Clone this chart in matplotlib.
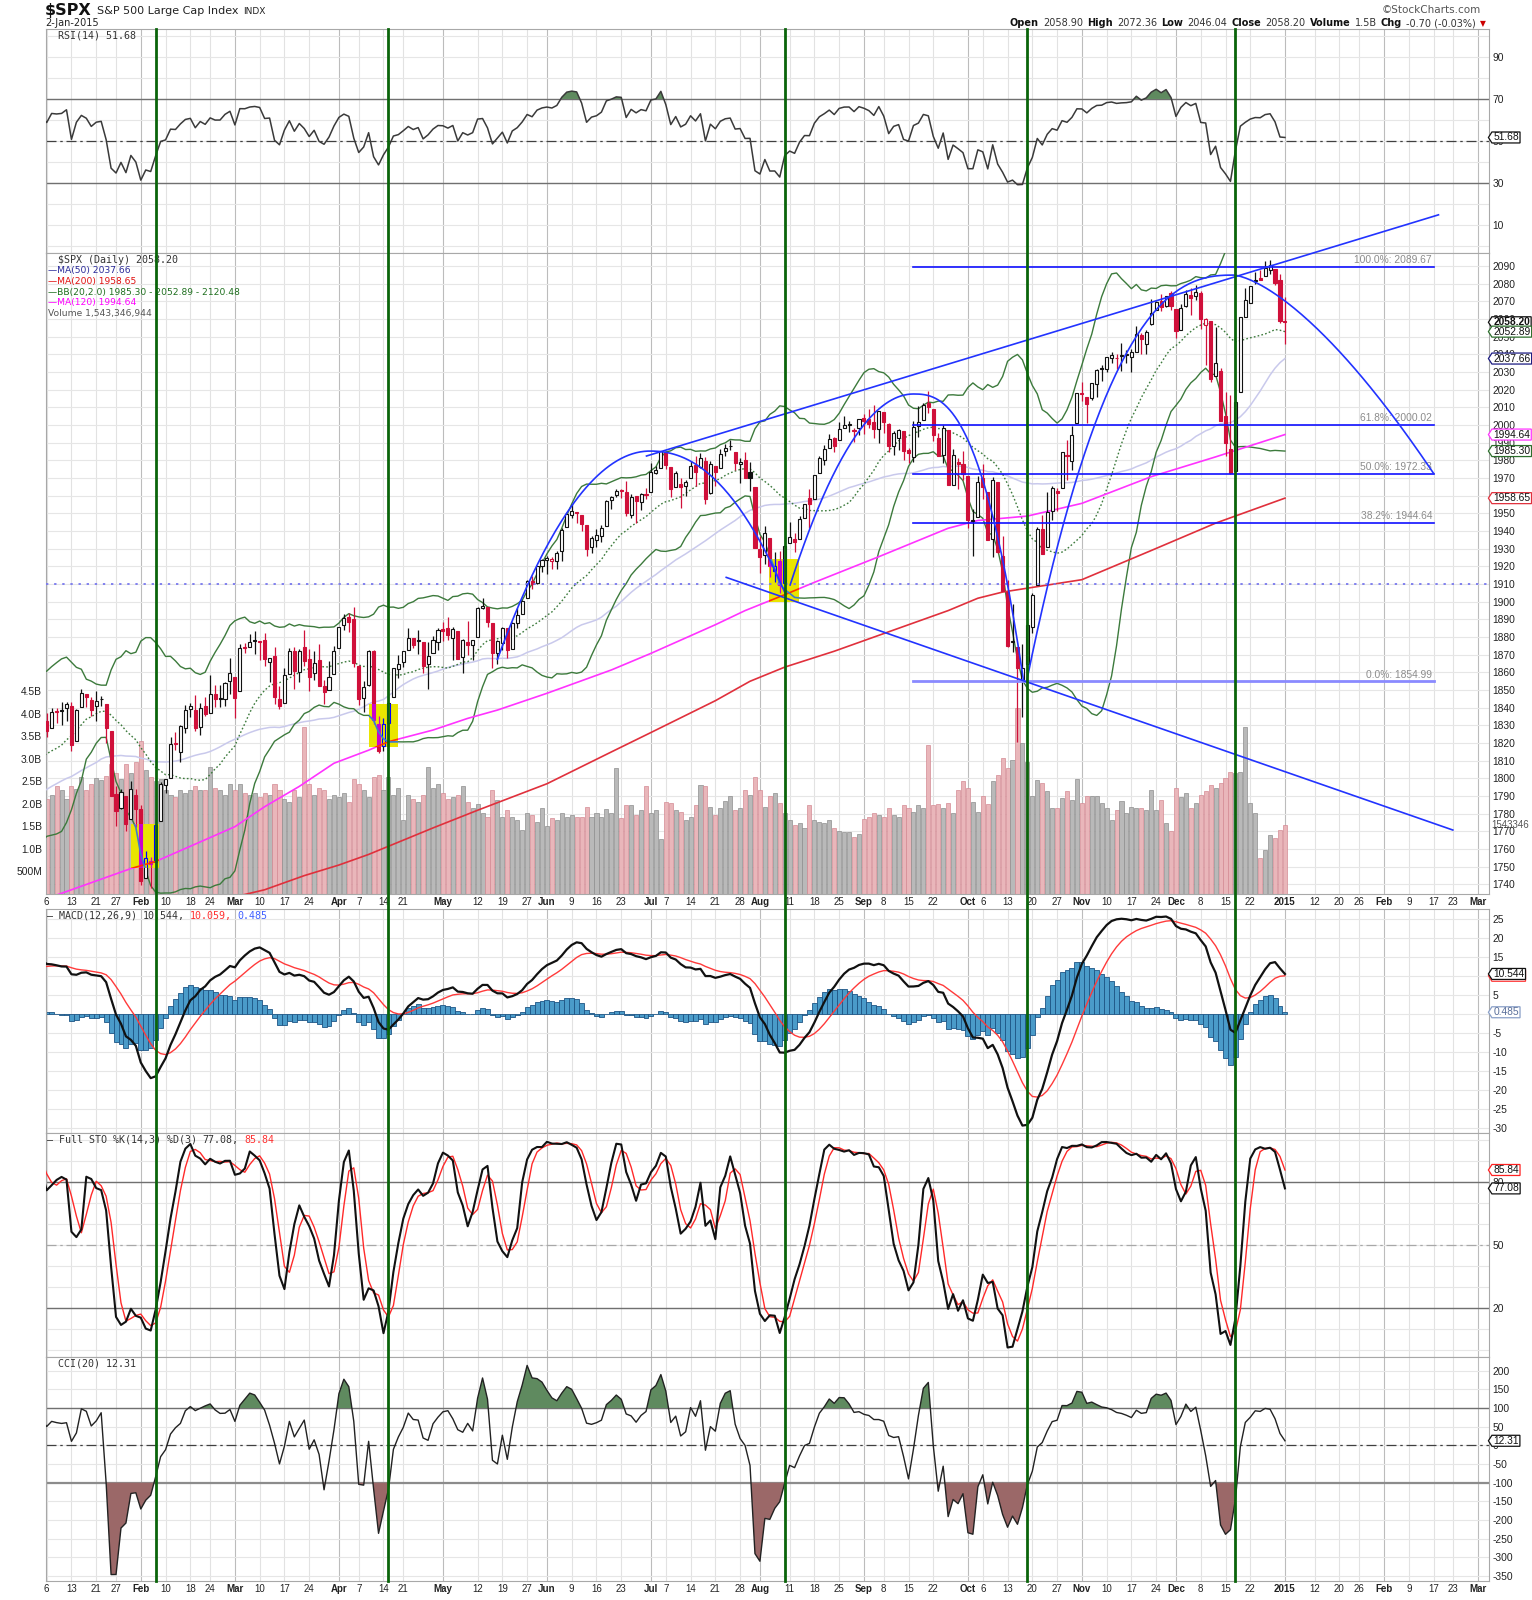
import matplotlib
matplotlib.use("Agg")
import matplotlib.pyplot as plt
import matplotlib.transforms as mtransforms
from matplotlib.lines import Line2D
from matplotlib.patches import Rectangle
from matplotlib.path import Path
from matplotlib.offsetbox import TextArea, HPacker, AnnotationBbox
import numpy as np
import pandas as pd

# ---------------- data ----------------
# trading sessions from 2013-10-21; the first 50 only warm up the indicators
first_session = "2013-10-21"
last_session = "2015-03-06"
holidays = ["2013-11-28", "2013-12-25", "2014-01-01", "2014-01-20", "2014-02-17",
            "2014-04-18", "2014-05-26", "2014-07-04", "2014-09-01", "2014-11-27",
            "2014-12-25", "2015-01-01", "2015-01-19", "2015-02-16"]
n_warmup = 50

opens = [
    1745.20, 1746.48, 1752.27, 1747.48, 1756.01, 1759.42, 1762.93, 1772.27, 1763.24,
    1758.70, 1763.40, 1765.67, 1765.00, 1770.74, 1748.37, 1769.96, 1769.51, 1764.37, 1782.75, 1790.66,
    1798.82, 1790.79, 1789.59, 1783.52, 1797.21, 1806.33, 1802.87, 1803.48, 1808.01,
    1806.55, 1800.10, 1794.15, 1792.82, 1788.36, 1806.21, 1807.60, 1802.76, 1781.71, 1777.98, 1777.48,
    1786.47, 1781.46, 1809.00, 1810.39, 1822.92, 1828.02, 1834.96, 1842.97, 1841.47, 1842.61,
    # 2014 Jan
    1845.86, 1833.21, 1832.31, 1828.71, 1837.90, 1839.00, 1840.06, 1841.26, 1821.36, 1840.52, 1847.99,
    1844.23, 1841.05, 1844.71, 1842.29, 1826.96, 1791.03, 1783.00, 1790.15, 1777.17, 1790.88,
    # Feb
    1782.68, 1743.82, 1753.38, 1752.99, 1776.01, 1796.20, 1800.45, 1820.12, 1814.82, 1828.46,
    1839.03, 1838.90, 1829.24, 1841.07, 1836.78, 1847.66, 1845.79, 1844.90, 1855.12,
    # Mar
    1857.68, 1849.23, 1874.05, 1874.18, 1878.52, 1877.86, 1878.26, 1866.15, 1869.06, 1845.07, 1842.81,
    1858.92, 1872.25, 1860.09, 1874.53, 1867.67, 1859.48, 1867.09, 1852.11, 1850.07, 1859.16,
    # Apr
    1873.96, 1886.61, 1891.43, 1890.25, 1863.92, 1845.48, 1852.64, 1872.28, 1830.65, 1818.18, 1831.45,
    1846.01, 1861.73, 1865.79, 1872.57, 1879.32, 1877.72, 1877.29, 1865.00, 1870.78, 1877.10,
    # May
    1884.39, 1885.30, 1879.45, 1883.69, 1868.53, 1877.39, 1875.27, 1880.03, 1896.75, 1897.13, 1888.16,
    1871.19, 1876.66, 1884.88, 1873.34, 1888.19, 1893.32, 1902.01, 1911.77, 1910.60, 1920.33,
    # Jun
    1923.87, 1923.07, 1923.06, 1928.52, 1942.41, 1948.97, 1950.34, 1949.37, 1943.35, 1930.80, 1934.84,
    1937.15, 1942.73, 1957.50, 1960.45, 1962.92, 1961.97, 1949.27, 1959.89, 1956.56, 1960.79,
    # Jul
    1962.29, 1973.06, 1975.88, 1984.22, 1976.39, 1965.10, 1966.67, 1965.76, 1969.86, 1977.36, 1976.35,
    1979.75, 1961.54, 1976.93, 1975.65, 1985.32, 1988.07, 1984.60, 1978.25, 1980.03, 1973.21, 1965.14,
    # Aug
    1929.80, 1926.62, 1936.34, 1917.29, 1923.03, 1910.35, 1933.43, 1935.73, 1935.60, 1947.41, 1958.87,
    1958.36, 1972.73, 1980.46, 1986.82, 1992.60, 1991.74, 1998.59, 2000.54, 1997.42, 1998.45,
    # Sep
    2004.07, 2003.57, 2001.67, 1998.00, 2007.17, 2000.73, 1988.41, 1992.85, 1996.74, 1986.04, 1981.93,
    1999.30, 2003.07, 2012.74, 2009.08, 1992.78, 1983.34, 1997.32, 1966.22, 1978.96, 1978.21,
    # Oct
    1971.44, 1945.83, 1948.12, 1970.01, 1962.36, 1935.55, 1967.68, 1925.63, 1905.65, 1877.11, 1874.18,
    1855.95, 1864.91, 1885.62, 1909.38, 1941.29, 1931.02, 1951.59, 1962.97, 1964.14, 1983.29, 1979.49,
    2001.20,
    # Nov
    2018.21, 2015.81, 2015.29, 2023.33, 2032.36, 2032.01, 2038.20, 2037.75, 2039.21, 2039.74, 2038.29,
    2041.48, 2051.16, 2045.87, 2057.46, 2065.07, 2070.15, 2067.36, 2074.78,
    # Dec
    2065.78, 2053.77, 2067.45, 2073.64, 2072.78, 2074.84, 2056.55, 2058.86, 2027.92, 2030.36, 2005.03,
    1986.71, 1973.77, 2018.98, 2061.04, 2069.28, 2081.48, 2083.25, 2084.30, 2087.63, 2088.49, 2082.11,
    # 2015 Jan 2
    2058.90,
]

highs = [
    1747.79, 1759.33, 1752.27, 1753.94, 1759.82, 1764.99, 1772.09, 1775.22, 1768.53,
    1765.67, 1768.78, 1767.03, 1773.74, 1774.54, 1770.78, 1773.44, 1771.78, 1782.00, 1791.53, 1798.22,
    1802.33, 1795.51, 1795.73, 1797.16, 1804.84, 1808.10, 1808.42, 1808.27, 1813.55,
    1810.02, 1800.10, 1799.80, 1792.82, 1806.04, 1811.52, 1808.52, 1802.97, 1782.99, 1780.92, 1792.22,
    1786.77, 1811.08, 1810.88, 1823.75, 1829.75, 1833.32, 1842.84, 1844.89, 1842.47, 1849.44,
    1845.86, 1838.24, 1837.16, 1840.10, 1840.02, 1843.23, 1843.15, 1843.45, 1839.26, 1850.84, 1847.99,
    1846.04, 1849.31, 1846.87, 1842.29, 1826.96, 1795.98, 1793.87, 1790.15, 1798.77, 1793.88,
    1784.83, 1758.73, 1755.79, 1774.06, 1798.03, 1799.94, 1823.54, 1826.55, 1830.25, 1841.65,
    1842.87, 1847.50, 1842.79, 1846.13, 1858.71, 1852.91, 1852.65, 1854.53, 1867.92,
    1857.68, 1876.23, 1876.53, 1881.94, 1883.57, 1877.87, 1882.35, 1868.38, 1874.40, 1852.44, 1862.30,
    1873.76, 1874.14, 1873.49, 1883.97, 1873.34, 1871.87, 1875.92, 1855.55, 1866.63, 1875.18,
    1885.84, 1893.17, 1893.80, 1897.28, 1864.04, 1854.95, 1872.43, 1872.53, 1835.07, 1834.19, 1844.02,
    1862.31, 1869.63, 1871.89, 1884.89, 1879.75, 1884.06, 1877.29, 1877.01, 1880.60, 1885.20,
    1888.59, 1891.33, 1885.51, 1883.69, 1878.83, 1889.07, 1878.57, 1897.13, 1902.17, 1897.13, 1888.16,
    1878.28, 1886.00, 1884.88, 1888.80, 1896.33, 1901.26, 1912.28, 1914.46, 1920.03, 1924.03,
    1925.88, 1925.07, 1928.63, 1941.74, 1949.44, 1955.55, 1950.86, 1949.37, 1943.35, 1937.30, 1941.15,
    1943.69, 1957.74, 1959.87, 1963.91, 1963.74, 1968.17, 1960.83, 1959.89, 1961.47, 1964.24,
    1978.58, 1976.67, 1985.59, 1984.22, 1976.39, 1974.15, 1969.84, 1968.67, 1979.85, 1982.52, 1983.94,
    1981.80, 1979.91, 1976.93, 1986.24, 1989.23, 1991.39, 1984.60, 1981.52, 1984.85, 1978.90, 1965.14,
    1937.35, 1942.92, 1936.34, 1927.91, 1928.89, 1932.38, 1944.90, 1939.20, 1948.41, 1955.23, 1964.04,
    1971.99, 1982.57, 1988.57, 1994.76, 1993.54, 2001.95, 2005.04, 2002.14, 1998.55, 2003.38,
    2006.12, 2009.28, 2011.17, 2007.71, 2007.17, 2001.01, 1996.66, 1997.65, 1996.74, 1987.18, 2002.28,
    2010.74, 2012.34, 2019.26, 2009.08, 1995.41, 1999.79, 1997.32, 1986.37, 1981.28, 1985.17,
    1971.44, 1952.32, 1971.19, 1977.84, 1962.36, 1970.36, 1967.68, 1936.98, 1912.09, 1898.71, 1874.18,
    1876.01, 1898.16, 1905.03, 1942.45, 1949.31, 1961.95, 1965.27, 1964.64, 1985.05, 1991.40, 1999.40,
    2018.19,
    2024.46, 2015.98, 2023.77, 2031.61, 2034.26, 2038.70, 2041.28, 2040.33, 2046.18, 2042.22, 2043.07,
    2056.08, 2052.14, 2053.84, 2071.46, 2070.17, 2074.21, 2073.29, 2075.76,
    2065.78, 2068.77, 2076.28, 2077.34, 2079.47, 2075.78, 2060.60, 2058.86, 2055.53, 2032.25, 2018.69,
    2016.89, 2016.75, 2061.23, 2077.85, 2078.76, 2086.73, 2087.56, 2092.70, 2093.55, 2088.49, 2085.58,
    2072.36,
]

lows = [
    1740.67, 1746.48, 1740.50, 1745.50, 1752.45, 1757.67, 1762.93, 1757.24, 1755.72,
    1752.70, 1761.56, 1755.76, 1764.40, 1746.20, 1747.63, 1767.85, 1762.29, 1760.64, 1780.22, 1790.66,
    1788.00, 1784.72, 1777.23, 1783.52, 1794.70, 1800.58, 1800.77, 1802.77, 1803.98,
    1798.60, 1787.85, 1779.09, 1783.38, 1788.36, 1806.21, 1801.75, 1780.09, 1772.28, 1772.45, 1777.48,
    1777.05, 1767.99, 1801.35, 1810.25, 1822.92, 1828.02, 1834.96, 1839.81, 1838.77, 1842.41,
    1827.74, 1829.13, 1823.73, 1828.71, 1831.40, 1830.38, 1832.43, 1815.52, 1821.36, 1840.52, 1840.30,
    1835.23, 1832.38, 1840.88, 1820.06, 1790.29, 1772.88, 1782.94, 1770.45, 1777.17, 1772.26,
    1739.66, 1743.82, 1737.92, 1752.99, 1776.01, 1791.83, 1800.41, 1815.97, 1809.22, 1825.59,
    1835.01, 1826.99, 1824.58, 1835.60, 1836.78, 1840.19, 1840.66, 1841.13, 1847.67,
    1834.44, 1849.23, 1871.11, 1874.18, 1870.56, 1867.04, 1863.88, 1854.38, 1841.86, 1839.57, 1842.81,
    1858.92, 1850.35, 1854.63, 1863.46, 1849.69, 1855.96, 1852.56, 1842.11, 1850.07, 1859.16,
    1873.96, 1883.79, 1882.65, 1863.26, 1841.48, 1837.49, 1852.38, 1830.87, 1814.36, 1815.80, 1816.29,
    1846.01, 1856.72, 1863.18, 1872.57, 1873.91, 1870.24, 1859.70, 1850.61, 1870.78, 1872.69,
    1878.04, 1878.50, 1866.77, 1867.72, 1859.79, 1870.05, 1867.02, 1880.03, 1896.06, 1885.77, 1862.36,
    1864.82, 1872.42, 1868.14, 1873.34, 1885.39, 1893.32, 1902.01, 1907.30, 1909.82, 1916.64,
    1915.98, 1918.79, 1918.60, 1922.93, 1942.41, 1947.16, 1944.64, 1940.08, 1925.78, 1927.69, 1930.91,
    1933.55, 1942.73, 1952.26, 1959.17, 1958.89, 1948.34, 1947.49, 1944.69, 1952.18, 1958.22,
    1962.29, 1972.58, 1975.88, 1974.88, 1959.46, 1965.10, 1952.86, 1959.63, 1969.86, 1965.34, 1975.67,
    1955.59, 1960.82, 1965.77, 1975.65, 1982.44, 1985.79, 1974.37, 1967.31, 1969.95, 1962.42, 1930.67,
    1916.37, 1921.20, 1913.77, 1911.45, 1904.78, 1909.01, 1933.43, 1928.29, 1935.60, 1947.41, 1941.50,
    1958.36, 1972.73, 1977.68, 1986.82, 1984.76, 1991.74, 1998.59, 1996.20, 1990.52, 1994.65,
    1994.85, 1998.14, 1992.54, 1990.10, 1995.60, 1984.61, 1982.99, 1985.93, 1980.26, 1978.48, 1979.06,
    1993.29, 2003.07, 2006.59, 1991.01, 1982.77, 1978.63, 1965.99, 1966.22, 1964.04, 1968.96,
    1941.72, 1926.03, 1948.12, 1958.43, 1934.87, 1925.25, 1927.56, 1906.05, 1874.14, 1871.79, 1820.66,
    1835.02, 1864.91, 1882.30, 1909.38, 1926.83, 1931.02, 1946.27, 1951.37, 1964.14, 1969.04, 1974.75,
    2001.20,
    2013.68, 2001.01, 2014.35, 2015.86, 2025.07, 2030.17, 2035.28, 2031.95, 2030.44, 2035.20, 2030.20,
    2041.48, 2040.37, 2040.49, 2056.75, 2065.07, 2064.75, 2066.62, 2065.06,
    2049.57, 2053.77, 2066.65, 2062.34, 2070.81, 2054.27, 2034.17, 2024.26, 2027.92, 2002.33, 1982.26,
    1972.56, 1973.77, 2018.98, 2061.03, 2069.28, 2079.77, 2081.86, 2084.30, 2085.75, 2079.53, 2057.94,
    2046.04,
]

closes = [
    1744.66, 1754.67, 1746.38, 1752.07, 1759.77, 1762.11, 1771.95, 1763.31, 1756.54,
    1761.64, 1767.93, 1762.97, 1770.49, 1747.15, 1770.61, 1771.89, 1767.69, 1782.00, 1790.62, 1798.18,
    1791.53, 1787.87, 1781.37, 1795.85, 1804.76, 1802.48, 1802.75, 1807.23, 1805.81,
    1800.90, 1795.15, 1792.81, 1785.03, 1805.09, 1808.37, 1802.62, 1782.22, 1775.50, 1775.32, 1786.54,
    1781.00, 1810.65, 1809.60, 1818.32, 1827.99, 1833.32, 1842.02, 1841.40, 1841.07, 1848.36,
    1831.98, 1831.37, 1826.77, 1837.88, 1837.49, 1838.13, 1842.37, 1819.20, 1838.88, 1848.38, 1845.89,
    1838.70, 1843.80, 1844.86, 1828.46, 1790.29, 1781.56, 1792.50, 1774.20, 1794.19, 1782.59,
    1741.89, 1755.20, 1751.64, 1773.43, 1797.02, 1799.84, 1819.75, 1819.26, 1829.83, 1838.63,
    1840.76, 1828.75, 1839.78, 1836.25, 1847.61, 1845.12, 1845.16, 1854.29, 1859.45,
    1845.73, 1873.91, 1873.81, 1877.03, 1878.04, 1877.17, 1867.63, 1868.20, 1846.34, 1841.13, 1858.83,
    1872.25, 1860.77, 1872.01, 1866.52, 1857.44, 1865.62, 1852.56, 1849.04, 1857.62, 1872.34,
    1885.52, 1890.90, 1888.77, 1865.09, 1845.04, 1851.96, 1872.18, 1833.08, 1815.69, 1830.61, 1842.98,
    1862.31, 1864.85, 1871.89, 1879.55, 1875.39, 1878.61, 1863.40, 1869.43, 1878.33, 1883.95,
    1883.68, 1881.14, 1884.66, 1867.72, 1878.21, 1875.63, 1878.48, 1896.65, 1897.45, 1888.53, 1870.85,
    1877.86, 1885.08, 1872.83, 1888.03, 1892.49, 1900.53, 1911.91, 1909.78, 1920.03, 1923.57,
    1924.97, 1924.24, 1927.88, 1940.46, 1949.44, 1951.27, 1950.79, 1943.89, 1930.11, 1936.16, 1937.78,
    1941.99, 1956.98, 1959.48, 1962.87, 1962.61, 1949.98, 1959.53, 1957.22, 1960.96, 1960.23,
    1973.32, 1974.62, 1985.44, 1977.65, 1963.71, 1972.83, 1964.68, 1967.57, 1977.10, 1973.28, 1981.57,
    1958.12, 1978.22, 1973.63, 1983.53, 1987.01, 1987.98, 1978.34, 1978.91, 1969.95, 1970.07, 1930.67,
    1925.15, 1938.99, 1920.21, 1920.24, 1909.57, 1931.59, 1936.92, 1933.75, 1946.72, 1955.18, 1955.06,
    1971.74, 1981.60, 1986.51, 1992.37, 1988.40, 1997.92, 2000.02, 2000.12, 1996.74, 2003.37,
    2002.28, 2000.72, 1997.65, 2007.71, 2001.54, 1988.44, 1995.69, 1997.45, 1985.54, 1984.13, 1998.98,
    2001.57, 2011.36, 2010.40, 1994.29, 1982.77, 1998.30, 1965.99, 1982.85, 1977.80, 1972.29,
    1946.16, 1946.17, 1967.90, 1964.82, 1935.10, 1968.89, 1928.21, 1906.13, 1874.74, 1877.70, 1862.49,
    1862.76, 1886.76, 1904.01, 1941.28, 1927.11, 1950.82, 1964.58, 1961.63, 1985.05, 1982.30, 1994.65,
    2018.05,
    2017.81, 2012.10, 2023.57, 2031.21, 2031.92, 2038.26, 2039.68, 2038.25, 2039.33, 2039.82, 2041.32,
    2051.80, 2048.72, 2052.75, 2063.50, 2069.41, 2067.03, 2072.83, 2067.56,
    2053.44, 2066.55, 2074.33, 2071.92, 2075.37, 2060.31, 2059.82, 2026.14, 2035.33, 2002.33, 1989.63,
    1972.74, 2012.89, 2061.23, 2070.65, 2078.54, 2082.17, 2081.88, 2088.77, 2090.57, 2080.35, 2058.90,
    2058.20,
]

# volume in billions, 2014-01-02 .. 2015-01-02
volumes_b = [
    2.40, 2.20, 2.12, 2.19, 2.39, 2.32, 2.12, 2.39, 2.33, 2.61, 2.32, 2.45, 2.57, 2.54, 2.63, 2.89,
    2.69, 2.55, 2.89, 2.69, 2.94,
    3.39, 2.75, 2.60, 2.50, 2.55, 2.30, 2.20, 2.15, 2.30, 2.25, 2.30, 2.40, 2.30, 2.30, 2.82, 2.35,
    2.30, 2.20, 2.45,
    2.30, 2.45, 2.25, 2.20, 2.25, 2.15, 2.25, 2.20, 2.45, 2.30, 2.10, 2.05, 2.30, 2.15, 3.70, 2.45,
    2.20, 2.35, 2.30, 2.10, 2.20,
    2.15, 2.25, 2.05, 2.55, 2.45, 2.30, 2.15, 2.60, 2.65, 2.30, 2.60, 2.20, 2.35, 1.65, 2.20, 2.10,
    2.05, 2.20, 2.82, 2.35, 2.45,
    2.25, 2.10, 2.15, 2.20, 2.40, 2.05, 1.90, 2.00, 1.80, 1.72, 2.31, 2.09, 1.72, 1.87, 1.72, 1.65,
    1.43, 1.81, 1.76, 1.61, 1.91,
    1.50, 1.68, 1.65, 1.80, 1.71, 1.76, 1.72, 1.71, 1.93, 1.72, 1.80, 1.72, 1.88, 1.81, 2.80, 1.68,
    1.98, 1.98, 1.76, 1.87, 2.40,
    1.80, 1.87, 1.22, 2.05, 2.02, 1.87, 1.83, 1.65, 1.72, 1.98, 2.43, 2.40, 1.94, 1.76, 1.91, 2.07,
    2.17, 1.87, 1.91, 2.31, 2.20, 2.60,
    2.31, 1.94, 2.18, 2.24, 2.02, 1.80, 1.65, 1.54, 1.57, 1.46, 1.98, 1.65, 1.61, 1.57, 1.65, 1.46,
    1.39, 1.37, 1.37, 1.27, 1.34,
    1.66, 1.72, 1.80, 1.76, 1.72, 1.91, 1.76, 1.72, 1.98, 1.91, 1.83, 1.98, 1.91, 3.31, 1.98, 2.00,
    1.91, 2.02, 1.80, 2.31, 2.50,
    2.35, 2.05, 1.83, 2.17, 2.00, 2.50, 2.65, 3.02, 2.80, 2.98, 4.13, 3.36, 2.94, 2.17, 2.54, 2.46,
    2.28, 1.91, 1.91, 2.13, 2.28, 2.09, 2.55,
    2.02, 2.17, 2.17, 2.17, 2.02, 1.91, 1.65, 1.87, 2.06, 1.80, 1.94, 1.91, 1.91, 1.87, 2.31, 1.87,
    2.09, 1.57, 1.39,
    2.35, 2.15, 2.25, 1.91, 2.02, 2.20, 2.28, 2.43, 2.35, 2.46, 2.57, 2.72, 2.68, 2.72, 3.72, 2.02,
    1.80, 0.80, 0.98, 1.31, 1.24, 1.43,
    1.543,
]

# long moving averages (not enough history to compute them)
ma120_dates = ["2014-01-06", "2014-01-30", "2014-02-06", "2014-03-03", "2014-03-11", "2014-03-20",
               "2014-03-31", "2014-04-09", "2014-04-15", "2014-04-29", "2014-05-08", "2014-05-16",
               "2014-06-02", "2014-06-19", "2014-07-01", "2014-07-21", "2014-07-29", "2014-08-08",
               "2014-08-18", "2014-09-05", "2014-09-25", "2014-10-03", "2014-10-17", "2014-11-03",
               "2014-11-21", "2014-12-11", "2015-01-02"]
ma120_vals = [1732, 1749, 1753, 1772.7, 1784, 1795.5, 1808.6, 1816, 1820.8, 1827.4, 1834, 1838.7,
              1848.2, 1861.4, 1870.8, 1887, 1895, 1904, 1911, 1925.5, 1941.6, 1946, 1948.5, 1955.7,
              1970.8, 1982, 1994.64]
ma200_dates = ["2014-03-03", "2014-03-11", "2014-03-21", "2014-04-01", "2014-04-09", "2014-04-29",
               "2014-05-12", "2014-06-02", "2014-06-19", "2014-07-01", "2014-07-21", "2014-07-30",
               "2014-08-08", "2014-08-22", "2014-09-08", "2014-09-25", "2014-10-03", "2014-10-10",
               "2014-11-03", "2014-11-21", "2014-12-11", "2015-01-02"]
ma200_vals = [1733, 1737, 1745, 1751, 1757, 1772, 1782, 1797, 1815, 1826, 1844, 1855, 1863, 1872,
              1882, 1895, 1902, 1905.5, 1912.5, 1929, 1944.5, 1958.65]

# date axis labels
tick_dates = ["2014-01-06", "2014-01-13", "2014-01-21", "2014-01-27", "2014-02-03", "2014-02-10",
              "2014-02-18", "2014-02-24", "2014-03-03", "2014-03-10", "2014-03-17", "2014-03-24",
              "2014-04-01", "2014-04-07", "2014-04-14", "2014-04-21", "2014-05-01", "2014-05-12",
              "2014-05-19", "2014-05-27", "2014-06-02", "2014-06-09", "2014-06-16", "2014-06-23",
              "2014-07-01", "2014-07-07", "2014-07-14", "2014-07-21", "2014-07-28", "2014-08-01",
              "2014-08-11", "2014-08-18", "2014-08-25", "2014-09-02", "2014-09-08", "2014-09-15",
              "2014-09-22", "2014-10-01", "2014-10-06", "2014-10-13", "2014-10-20", "2014-10-27",
              "2014-11-03", "2014-11-10", "2014-11-17", "2014-11-24", "2014-12-01", "2014-12-08",
              "2014-12-15", "2014-12-22", "2015-01-02", "2015-01-12", "2015-01-20", "2015-01-26",
              "2015-02-02", "2015-02-09", "2015-02-17", "2015-02-23", "2015-03-02"]
tick_text = ["6", "13", "21", "27", "Feb", "10", "18", "24", "Mar", "10", "17", "24", "Apr", "7",
             "14", "21", "May", "12", "19", "27", "Jun", "9", "16", "23", "Jul", "7", "14", "21",
             "28", "Aug", "11", "18", "25", "Sep", "8", "15", "22", "Oct", "6", "13", "20", "27",
             "Nov", "10", "17", "24", "Dec", "8", "15", "22", "2015", "12", "20", "26", "Feb", "9",
             "17", "23", "Mar"]

# annotations drawn on the chart
signal_dates = ["2014-02-06", "2014-04-15", "2014-08-08", "2014-10-17", "2014-12-17"]
fib_levels = [2089.67, 2000.02, 1972.33, 1944.64, 1854.99]
fib_names = ["100.0%", "61.8%", "50.0%", "38.2%", "0.0%"]
fib_span = (177.0, 282.0)
dotted_level = 1910
upper_trend = [(123.1, 1982.5), (283.0, 2119.0)]
lower_trend = [(139.2, 1913.8), (285.9, 1770.8)]
arcs = [[(93.0, 1867.4), (123.8, 1985.3), (151.1, 1904.8)],
        [(152.1, 1909.5), (177.0, 2017.6), (199.2, 1855.7)],
        [(199.9, 1855.7), (241.6, 2084.9), (282.0, 1972.7)]]
arc_power = [(2.0, 2.2), (2.0, 2.6), (2.5, 1.5)]
highlight_x = [(19.0, 24.7), (67.1, 72.9), (147.9, 153.8)]
highlight_p = [(1749.1, 1774.0), (1818.0, 1842.1), (1900.0, 1924.2)]

# ---------------- calendar and indicators ----------------
cal = pd.bdate_range(first_session, last_session)
cal = cal[~cal.isin(pd.to_datetime(holidays))]
pos = pd.Series(np.arange(len(cal)) - n_warmup, index=cal)


def xpos(d):
    return float(pos[pd.Timestamp(d)])


o = np.array(opens)
h = np.array(highs)
l = np.array(lows)
c = np.array(closes)
assert len(o) == len(h) == len(l) == len(c) == 303
assert len(volumes_b) == 253
xs = np.arange(len(c)) - n_warmup
cs, hs, ls = pd.Series(c), pd.Series(h), pd.Series(l)

ma50 = cs.rolling(50).mean()
bb_mid = cs.rolling(20).mean()
bb_sd = cs.rolling(20).std(ddof=0)
bb_up = bb_mid + 2 * bb_sd
bb_dn = bb_mid - 2 * bb_sd

diff = cs.diff()
gain = diff.clip(lower=0).ewm(alpha=1 / 14, adjust=False).mean()
loss = (-diff.clip(upper=0)).ewm(alpha=1 / 14, adjust=False).mean()
rsi = (100 - 100 / (1 + gain / loss)).values

macd = cs.ewm(span=12, adjust=False).mean() - cs.ewm(span=26, adjust=False).mean()
macd_sig = macd.ewm(span=9, adjust=False).mean()
macd_hist = (macd - macd_sig).values

fast_k = 100 * (cs - ls.rolling(14).min()) / (hs.rolling(14).max() - ls.rolling(14).min())
sto_k = fast_k.rolling(3).mean()
sto_d = sto_k.rolling(3).mean()

tp = (hs + ls + cs) / 3
tp_md = tp.rolling(20).apply(lambda v: np.mean(np.abs(v - v.mean())), raw=True)
cci = ((tp - tp.rolling(20).mean()) / (0.015 * tp_md)).values

prev = np.r_[np.nan, c[:-1]]
is_down = c < prev
is_filled = c < o
show = xs >= 0

# ---------------- figure ----------------
plt.rcParams["font.family"] = "DejaVu Sans"
plt.rcParams["font.size"] = 6.8
plt.rcParams["axes.unicode_minus"] = False
TICKFONT = "Liberation Sans"

W, H = 1532, 1600
LEFT, RIGHT = 45.6, 1489.0
fig = plt.figure(figsize=(W / 100, H / 100), dpi=100)
fig.patch.set_facecolor("white")


def rect(top, bot):
    return [LEFT / W, 1 - bot / H, (RIGHT - LEFT) / W, (bot - top) / H]


ax_rsi = fig.add_axes(rect(29, 253))
ax_vol = fig.add_axes(rect(253, 894))
ax_p = fig.add_axes(rect(253, 894))
ax_macd = fig.add_axes(rect(909, 1133.3))
ax_sto = fig.add_axes(rect(1133.3, 1357.3))
ax_cci = fig.add_axes(rect(1357.3, 1580.7))
ax_p.patch.set_visible(False)

XMIN, XMAX = 1.78, 293.2
tick_x = [xpos(d) for d in tick_dates]
is_month = [t.isalpha() or t == "2015" for t in tick_text]

for ax in (ax_rsi, ax_vol, ax_p, ax_macd, ax_sto, ax_cci):
    ax.set_xlim(XMIN, XMAX)
    ax.set_xticks(tick_x)
    ax.tick_params(length=0, labelsize=7.4, pad=2.5, colors="#222222")
    ax.tick_params(axis="x", labelbottom=False, labelsize=7.0)
    for sp in ax.spines.values():
        sp.set_color("#a8a8a8")
        sp.set_linewidth(0.8)
for sp in ax_p.spines.values():
    sp.set_visible(False)


def vgrid(ax):
    for t, m in zip(tick_x, is_month):
        ax.axvline(t, color="#bcbcbc" if m else "#e2e2e2", lw=0.8, zorder=0)


def hgrid(ax, levels):
    for v in levels:
        ax.axhline(v, color="#e6e6e6", lw=0.8, zorder=0)


def font_ticks(ax):
    for lab in ax.get_yticklabels() + ax.get_xticklabels():
        lab.set_fontfamily(TICKFONT)


# ---- RSI ----
ax_rsi.set_ylim(-3.3, 103.3)
vgrid(ax_rsi)
hgrid(ax_rsi, range(0, 101, 10))
ax_rsi.axhline(70, color="#707070", lw=1.0, zorder=1)
ax_rsi.axhline(30, color="#707070", lw=1.0, zorder=1)
ax_rsi.axhline(50, color="#404040", lw=0.9, ls=(0, (8, 3, 2, 3)), zorder=1)
ax_rsi.fill_between(xs[show], 70, rsi[show], where=rsi[show] > 70, interpolate=True,
                    color="#5f8a5f", lw=0, zorder=2)
ax_rsi.fill_between(xs[show], 30, rsi[show], where=rsi[show] < 30, interpolate=True,
                    color="#9b6868", lw=0, zorder=2)
ax_rsi.plot(xs[show], rsi[show], color="#3a3a3a", lw=1.1, zorder=3)
ax_rsi.yaxis.tick_right()
ax_rsi.set_yticks([10, 30, 50, 70, 90])
font_ticks(ax_rsi)

# ---- volume (underneath) ----
ax_vol.set_ylim(0, 14.24)
vgrid(ax_vol)
PMIN, PMAX = 1734.6, 2097.4
trans_pg = mtransforms.blended_transform_factory(ax_vol.transAxes, ax_p.transData)
for v in range(1740, 2100, 10):
    ax_vol.add_line(Line2D([0, 1], [v, v], transform=trans_pg, color="#e6e6e6", lw=0.8, zorder=0))
vx = xs[n_warmup:]
vdown = is_down[n_warmup:]
ax_vol.bar(vx, volumes_b, width=0.82,
           color=np.where(vdown, "#e9b6ba", "#b9b9b9"),
           edgecolor=np.where(vdown, "#d48a94", "#8e8e8e"), lw=0.5, zorder=2)
ax_vol.set_ylim(0, 14.24)
ax_vol.set_yticks([0.5, 1, 1.5, 2, 2.5, 3, 3.5, 4, 4.5])
ax_vol.set_yticklabels(["500M", "1.0B", "1.5B", "2.0B", "2.5B", "3.0B", "3.5B", "4.0B", "4.5B"])
font_ticks(ax_vol)

# ---- price ----
ax_p.set_ylim(PMIN, PMAX)
ax_p.yaxis.tick_right()
ax_p.set_yticks(range(1740, 2100, 10))
ax_p.tick_params(axis="x", labelbottom=True, pad=2.5)
ax_p.set_xticklabels(tick_text)
for lab, m in zip(ax_p.get_xticklabels(), is_month):
    if m:
        lab.set_fontweight("bold")
font_ticks(ax_p)

ax_p.plot(xs, ma50, color="#c9c9ec", lw=1.1, zorder=3)
ax_p.plot(xs, bb_up, color="#3c7a3c", lw=1.0, zorder=3)
ax_p.plot(xs, bb_dn, color="#3c7a3c", lw=1.0, zorder=3)
ax_p.plot(xs, bb_mid, color="#3c7a3c", lw=1.0, ls=(0, (1.2, 1.6)), zorder=3)
ma120_x = [xpos(d) for d in ma120_dates]
ma200_x = [xpos(d) for d in ma200_dates]
ax_p.plot(ma120_x, ma120_vals, color="#ff33ff", lw=1.2, zorder=3)
ax_p.plot(ma200_x, ma200_vals, color="#e0303c", lw=1.2, zorder=3)


def draw_candles(mask, col_up, col_dn, hollow, z, clip=None):
    xx = xs[mask]
    cols = np.where(is_down[mask], col_dn, col_up)
    wick = ax_p.vlines(xx, l[mask], h[mask], colors=cols, lw=0.9, zorder=z)
    lo = np.minimum(o[mask], c[mask])
    ht = np.maximum(np.abs(c[mask] - o[mask]), 0.4)
    fcs = np.where(is_filled[mask], cols, hollow)
    bars = ax_p.bar(xx, ht, bottom=lo, width=0.62, color=fcs, edgecolor=cols, lw=0.8, zorder=z + 0.1)
    if clip is not None:
        wick.set_clip_path(clip)
        for b in bars:
            b.set_clip_path(clip)


draw_candles(show, "#111111", "#d0103a", "white", 4)

# highlighted boxes
for (hx0, hx1), (hp0, hp1) in zip(highlight_x, highlight_p):
    box = Rectangle((hx0, hp0), hx1 - hx0, hp1 - hp0, fc="#e9e500", ec="none", zorder=4.5)
    ax_p.add_patch(box)
    sel = show & (xs >= hx0 - 1) & (xs <= hx1 + 1)
    draw_candles(sel, "#0000ff", "#cc00cc", "#e9e500", 5, clip=box)
    for xx_, yy_, col in ((ma120_x, ma120_vals, "#ff3300"), (xs, bb_dn, "#3c7ad0"),
                          (xs, bb_mid, "#3c7ad0")):
        ln, = ax_p.plot(xx_, yy_, color=col, lw=1.2, zorder=5.5)
        ln.set_clip_path(box)

# blue drawings
BLUE = "#2233ff"
ax_p.axhline(dotted_level, color="#7878ee", lw=1.3, ls=(0, (1.3, 3.2)), zorder=6)
for lev, name in zip(fib_levels, fib_names):
    light = name == "0.0%"
    ax_p.plot(fib_span, [lev, lev], color="#8a8aff" if light else "#1010ff",
              lw=2.0 if light else 1.2, zorder=6)
    ax_p.text(fib_span[1] - 0.3, lev + 1.0, f"{name}: {lev:.2f}", ha="right", va="bottom",
              fontsize=7.4, family=TICKFONT, color="#8c8c8c", zorder=7)
for (p0, p1) in (upper_trend, lower_trend):
    ax_p.plot([p0[0], p1[0]], [p0[1], p1[1]], color=BLUE, lw=1.2, zorder=7, clip_on=False)
for (s, a, e), (pl, pr) in zip(arcs, arc_power):
    xl = np.linspace(s[0], a[0], 80)
    yl = a[1] - (a[1] - s[1]) * (np.abs(xl - a[0]) / abs(a[0] - s[0])) ** pl
    xr = np.linspace(a[0], e[0], 80)
    yr = a[1] - (a[1] - e[1]) * (np.abs(xr - a[0]) / abs(e[0] - a[0])) ** pr
    ax_p.plot(np.r_[xl, xr], np.r_[yl, yr], color=BLUE, lw=1.2, zorder=7)

# ---- MACD ----
ax_macd.set_ylim(-31.3, 27.6)
vgrid(ax_macd)
hgrid(ax_macd, range(-30, 26, 5))
ax_macd.bar(xs[show], macd_hist[show], width=1.0, color="#4a9bc9", edgecolor="#1d5585",
            lw=0.6, zorder=2)
ax_macd.plot(xs[show], macd_sig[show], color="#ff3a3a", lw=1.0, zorder=3)
ax_macd.plot(xs[show], macd[show], color="#111111", lw=1.6, zorder=4)
ax_macd.yaxis.tick_right()
ax_macd.set_yticks(range(-30, 26, 5))
font_ticks(ax_macd)

# ---- Full STO ----
ax_sto.set_ylim(-3.3, 103.3)
vgrid(ax_sto)
hgrid(ax_sto, range(0, 101, 10))
ax_sto.axhline(80, color="#707070", lw=1.0, zorder=1)
ax_sto.axhline(20, color="#707070", lw=1.0, zorder=1)
ax_sto.axhline(50, color="#a8a8a8", lw=0.9, ls=(0, (8, 3, 2, 3)), zorder=1)
ax_sto.plot(xs[show], sto_d[show], color="#ff2a2a", lw=1.0, zorder=3)
ax_sto.plot(xs[show], sto_k[show], color="#111111", lw=1.5, zorder=4)
ax_sto.yaxis.tick_right()
ax_sto.set_yticks([20, 50, 80])
font_ticks(ax_sto)

# ---- CCI ----
ax_cci.set_ylim(-362.6, 236)
vgrid(ax_cci)
hgrid(ax_cci, range(-350, 201, 50))
ax_cci.axhline(100, color="#707070", lw=1.0, zorder=1)
ax_cci.axhline(-100, color="#8c8c8c", lw=1.6, zorder=1)
ax_cci.axhline(0, color="#404040", lw=0.9, ls=(0, (8, 3, 2, 3)), zorder=1)
ax_cci.fill_between(xs[show], 100, cci[show], where=cci[show] > 100, interpolate=True,
                    color="#5f8a5f", lw=0, zorder=2)
ax_cci.fill_between(xs[show], -100, cci[show], where=cci[show] < -100, interpolate=True,
                    color="#9b6868", lw=0, zorder=2)
ax_cci.plot(xs[show], cci[show], color="#222222", lw=1.0, zorder=3)
ax_cci.yaxis.tick_right()
ax_cci.set_yticks(range(-350, 201, 50))
ax_cci.tick_params(axis="x", labelbottom=True, pad=2.5)
ax_cci.set_xticklabels(tick_text)
for lab, m in zip(ax_cci.get_xticklabels(), is_month):
    if m:
        lab.set_fontweight("bold")
font_ticks(ax_cci)

# ---- green signal lines through all panels ----
trans_sig = mtransforms.blended_transform_factory(ax_p.transData, fig.transFigure)
for d in signal_dates:
    fig.add_artist(Line2D([xpos(d), xpos(d)], [1 - 1580.7 / H, 1 - 29 / H], transform=trans_sig,
                          color="#0a640a", lw=2.0, zorder=10))


# ---- value tags on the right edge ----
def tag_style(x0, y0, width, height, mutation_size):
    pad = 0.12 * mutation_size
    x0, y0 = x0 - pad, y0 - pad * 0.4
    width, height = width + 2 * pad, height + 0.8 * pad
    tip = height * 0.32
    verts = [(x0, y0), (x0 + width, y0), (x0 + width, y0 + height), (x0, y0 + height),
             (x0 - tip, y0 + height / 2), (x0, y0)]
    return Path(verts, closed=True)


def tag(ax, y, text, edge, color="#111111", weight="normal"):
    ax.annotate(text, xy=(1, y), xycoords=("axes fraction", "data"), xytext=(3.0, 0),
                textcoords="offset points", ha="left", va="center", fontsize=7.4,
                family=TICKFONT, color=color, fontweight=weight, annotation_clip=False,
                zorder=20, bbox=dict(boxstyle=tag_style, fc="white", ec=edge, lw=0.9))


tag(ax_rsi, 51.68, "51.68", "#111111")
tag(ax_p, 2058.20, "2058.20", "#111111", weight="bold")
tag(ax_p, 2052.89, "2052.89", "#2c6e2c")
tag(ax_p, 2037.66, "2037.66", "#1a1a80")
tag(ax_p, 1994.64, "1994.64", "#ff33ff")
tag(ax_p, 1985.30, "1985.30", "#2c6e2c")
tag(ax_p, 1958.65, "1958.65", "#e0303c")
ax_vol.annotate("1543346", xy=(1, 1.543), xycoords=("axes fraction", "data"), xytext=(1.5, 0),
                textcoords="offset points", ha="left", va="center", fontsize=7.0,
                family=TICKFONT, color="#555555", annotation_clip=False)
tag(ax_macd, 10.059, "10.544", "#ff3a3a")
tag(ax_macd, 10.544, "10.544", "#111111")
tag(ax_macd, 0.485, "0.485", "#8aa0c8", color="#5a6f9a")
tag(ax_sto, 85.84, "85.84", "#ff2020")
tag(ax_sto, 77.08, "77.08", "#111111")
tag(ax_cci, 12.31, "12.31", "#111111")


# ---- text ----
def rich(parts, x, y, align=0.0, sep=3.0):
    boxes = [TextArea(s, textprops=p) for s, p in parts]
    pack = HPacker(children=boxes, align="baseline", pad=0, sep=sep)
    ab = AnnotationBbox(pack, (x / W, 1 - y / H), xycoords="figure fraction",
                        box_alignment=(align, 0.5), frameon=False, pad=0)
    fig.add_artist(ab)


def ftext(x, y, s, **kw):
    fig.text(x / W, 1 - y / H, s, va="center", **kw)


rich([("$SPX", dict(fontsize=11.5, fontweight="bold", color="#111111")),
      ("S&P 500 Large Cap Index", dict(fontsize=8, color="#222222")),
      ("INDX", dict(fontsize=6.5, color="#222222"))], 45, 10, sep=3.5)
ftext(45, 23, "2-Jan-2015", fontsize=7, color="#222222")
ftext(1481, 10, "\u00a9StockCharts.com", fontsize=7.5, color="#555555", ha="right")
B = dict(fontsize=7, fontweight="bold", color="#111111")
N_ = dict(fontsize=7, color="#333333")
rich([("Open", B), ("2058.90", N_), ("High", B), ("2072.36", N_), ("Low", B), ("2046.04", N_),
      ("Close", B), ("2058.20", N_), ("Volume", B), ("1.5B", N_), ("Chg", B),
      ("-0.70 (-0.03%)", N_), ("\u25bc", dict(fontsize=5.5, color="#cc0000"))],
     1486, 23, align=1.0, sep=3.0)

MONO = dict(family="DejaVu Sans Mono", fontsize=7.2)
ftext(58, 35, "RSI(14) 51.68", color="#333333", **MONO)
ftext(58, 260, "$SPX (Daily) 2058.20", color="#333333", **MONO)
legend_lines = [("\u2014MA(50) 2037.66", "#2a2a9a"), ("\u2014MA(200) 1958.65", "#e01010"),
                ("\u2014BB(20,2.0) 1985.30 - 2052.89 - 2120.48", "#207020"),
                ("\u2014MA(120) 1994.64", "#ff00ff"), ("Volume 1,543,346,944", "#555555")]
for i, (s, col) in enumerate(legend_lines):
    ftext(48, 270.9 + i * 10.7, s, fontsize=6.6, color=col)
rich([("\u2014 MACD(12,26,9)", dict(MONO, color="#333333")),
      ("10.544,", dict(MONO, color="#333333")), ("10.059,", dict(MONO, color="#ff3030")),
      ("0.485", dict(MONO, color="#4060ff"))], 47, 915.7, sep=4)
rich([("\u2014 Full STO %K(14,3) %D(3)", dict(MONO, color="#333333")),
      ("77.08,", dict(MONO, color="#333333")), ("85.84", dict(MONO, color="#ff3030"))],
     47, 1140, sep=4)
ftext(58, 1364, "CCI(20) 12.31", color="#333333", **MONO)

fig.savefig("out.png", dpi=100, facecolor="white")
